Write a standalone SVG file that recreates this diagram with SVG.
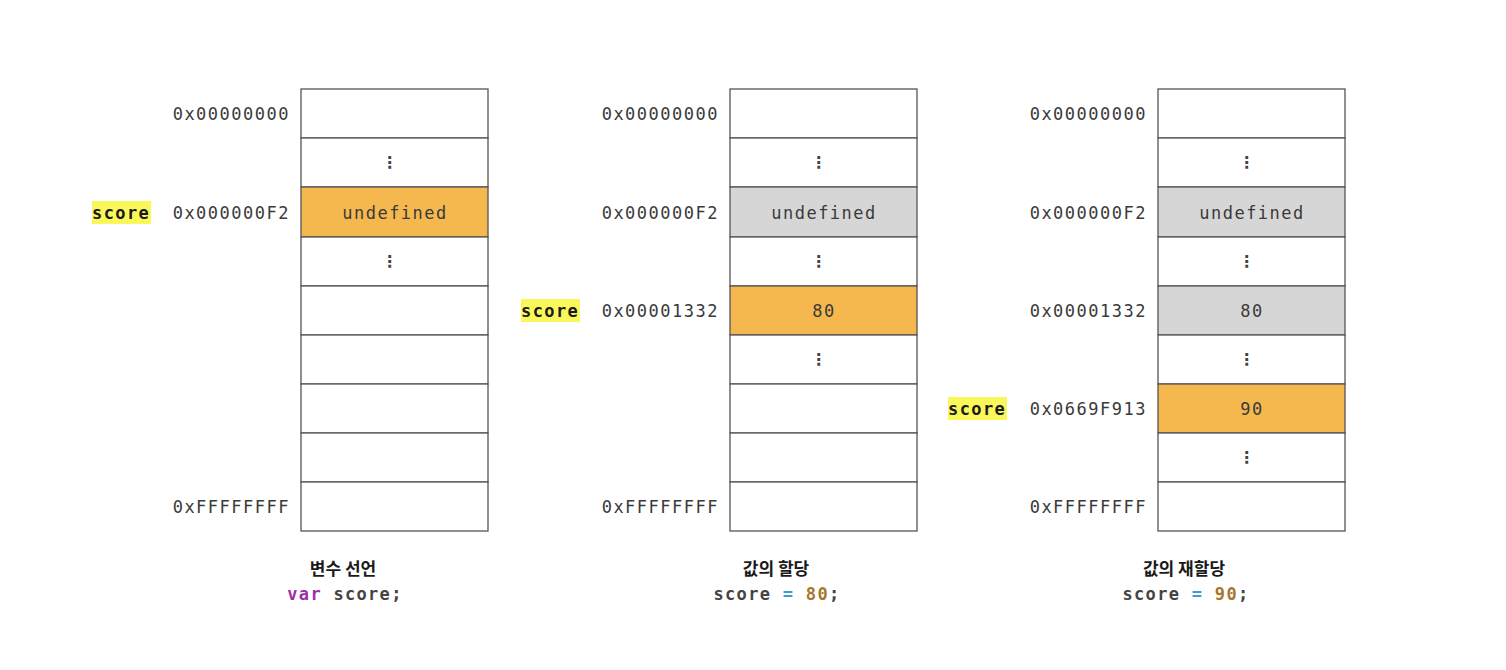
<svg xmlns="http://www.w3.org/2000/svg" width="1506" height="670" viewBox="0 0 1506 670">
<style>
.cell{fill:#ffffff;stroke:#555555;stroke-width:1.3}
.hi{fill:#F4B84F;stroke:#555555;stroke-width:1.3}
.old{fill:#D6D6D6;stroke:#555555;stroke-width:1.3}
.addr{font-family:"DejaVu Sans Mono","Liberation Mono",monospace;font-size:17px;letter-spacing:1.5px;fill:#3a3a3a;text-anchor:end}
.val{font-family:"DejaVu Sans Mono","Liberation Mono",monospace;font-size:17px;letter-spacing:1.5px;fill:#3a3a3a;text-anchor:middle}
.dots{font-family:"DejaVu Sans",sans-serif;font-size:16px;font-weight:bold;fill:#444444;text-anchor:middle}
.mark{fill:#FAF75A}
.var{font-family:"DejaVu Sans Mono","Liberation Mono",monospace;font-size:17px;font-weight:bold;fill:#1a1a1a;letter-spacing:1.4px}
.cap{font-family:"Noto Sans CJK KR","Noto Sans",sans-serif;font-size:17px;font-weight:bold;fill:#1a1a1a;text-anchor:middle}
.code{font-family:"DejaVu Sans Mono","Liberation Mono",monospace;font-size:17px;font-weight:bold;fill:#444444;text-anchor:middle;letter-spacing:1.3px}
</style>
<rect width="1506" height="670" fill="#ffffff"/>

<g id="memory-declaration">
<rect class="cell" x="301" y="89" width="187" height="49"/>
<rect class="cell" x="301" y="138" width="187" height="49"/>
<rect class="hi" x="301" y="187" width="187" height="50"/>
<rect class="cell" x="301" y="237" width="187" height="49"/>
<rect class="cell" x="301" y="286" width="187" height="49"/>
<rect class="cell" x="301" y="335" width="187" height="49"/>
<rect class="cell" x="301" y="384" width="187" height="49"/>
<rect class="cell" x="301" y="433" width="187" height="49"/>
<rect class="cell" x="301" y="482" width="187" height="49"/>
<text class="dots" x="389.5" y="168">⋮</text>
<text class="val" x="395" y="219">undefined</text>
<text class="dots" x="389.5" y="267">⋮</text>
<text class="addr" x="290" y="120">0x00000000</text>
<text class="addr" x="290" y="219">0x000000F2</text>
<text class="addr" x="290" y="513">0xFFFFFFFF</text>
<rect class="mark" x="92" y="201" width="59" height="23"/>
<text class="var" x="92" y="219">score</text>
<text class="cap" x="343" y="575">변수 선언</text>
<text class="code" x="345" y="600"><tspan fill="#9C2FA3">var</tspan> score;</text>
</g>

<g id="memory-assignment">
<rect class="cell" x="730" y="89" width="187" height="49"/>
<rect class="cell" x="730" y="138" width="187" height="49"/>
<rect class="old" x="730" y="187" width="187" height="50"/>
<rect class="cell" x="730" y="237" width="187" height="49"/>
<rect class="hi" x="730" y="286" width="187" height="49"/>
<rect class="cell" x="730" y="335" width="187" height="49"/>
<rect class="cell" x="730" y="384" width="187" height="49"/>
<rect class="cell" x="730" y="433" width="187" height="49"/>
<rect class="cell" x="730" y="482" width="187" height="49"/>
<text class="dots" x="818.5" y="168">⋮</text>
<text class="val" x="824" y="219">undefined</text>
<text class="dots" x="818.5" y="267">⋮</text>
<text class="val" x="824" y="317">80</text>
<text class="dots" x="818.5" y="365">⋮</text>
<text class="addr" x="719" y="120">0x00000000</text>
<text class="addr" x="719" y="219">0x000000F2</text>
<text class="addr" x="719" y="317">0x00001332</text>
<text class="addr" x="719" y="513">0xFFFFFFFF</text>
<rect class="mark" x="521" y="299" width="59" height="23"/>
<text class="var" x="521" y="317">score</text>
<text class="cap" x="776" y="575">값의 할당</text>
<text class="code" x="777" y="600">score <tspan fill="#3E9BD8">=</tspan> <tspan fill="#A6772C">80</tspan>;</text>
</g>

<g id="memory-reassignment">
<rect class="cell" x="1158" y="89" width="187" height="49"/>
<rect class="cell" x="1158" y="138" width="187" height="49"/>
<rect class="old" x="1158" y="187" width="187" height="50"/>
<rect class="cell" x="1158" y="237" width="187" height="49"/>
<rect class="old" x="1158" y="286" width="187" height="49"/>
<rect class="cell" x="1158" y="335" width="187" height="49"/>
<rect class="hi" x="1158" y="384" width="187" height="49"/>
<rect class="cell" x="1158" y="433" width="187" height="49"/>
<rect class="cell" x="1158" y="482" width="187" height="49"/>
<text class="dots" x="1246.5" y="168">⋮</text>
<text class="val" x="1252" y="219">undefined</text>
<text class="dots" x="1246.5" y="267">⋮</text>
<text class="val" x="1252" y="317">80</text>
<text class="dots" x="1246.5" y="365">⋮</text>
<text class="val" x="1252" y="415">90</text>
<text class="dots" x="1246.5" y="463">⋮</text>
<text class="addr" x="1147" y="120">0x00000000</text>
<text class="addr" x="1147" y="219">0x000000F2</text>
<text class="addr" x="1147" y="317">0x00001332</text>
<text class="addr" x="1147" y="415">0x0669F913</text>
<text class="addr" x="1147" y="513">0xFFFFFFFF</text>
<rect class="mark" x="948" y="397" width="59" height="23"/>
<text class="var" x="948" y="415">score</text>
<text class="cap" x="1184" y="575">값의 재할당</text>
<text class="code" x="1186" y="600">score <tspan fill="#3E9BD8">=</tspan> <tspan fill="#A6772C">90</tspan>;</text>
</g>

<g id="connectors"></g>
</svg>
